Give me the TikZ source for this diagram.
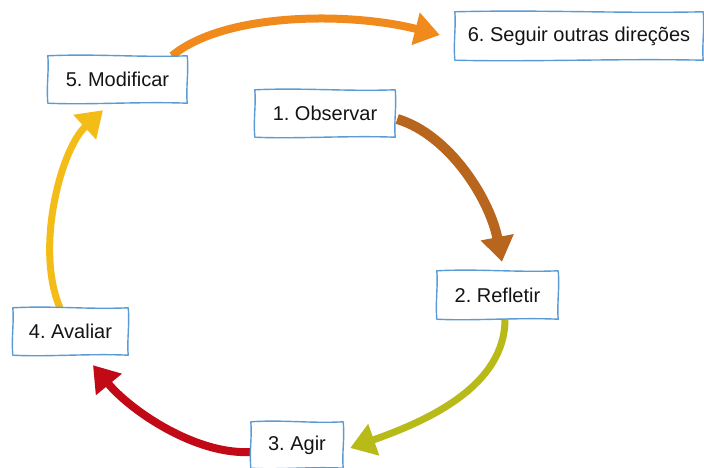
\documentclass[tikz,border=0pt]{standalone}
\usepackage{fontspec}
\setmainfont{Liberation Sans}
\usetikzlibrary{arrows.meta,calc,backgrounds}

\definecolor{boxblue}{HTML}{5B9BD5}
\definecolor{cOrange}{HTML}{F08A1C}
\definecolor{cBrown}{HTML}{B8651E}
\definecolor{cOlive}{HTML}{B7BA17}
\definecolor{cRed}{HTML}{C20A16}
\definecolor{cYellow}{HTML}{F4BC16}
\definecolor{ink}{HTML}{141414}

\tikzset{
  stepbox/.style={fill=white,
    font=\fontsize{20}{23}\selectfont, text=ink, inner sep=0pt,
    minimum width=#1, minimum height=47pt},
  boxline/.style={draw=boxblue, line width=1.4pt, line cap=round, line join=round},
  cyclearrow/.style={line width=#1, line cap=butt,
    -{Triangle[length=25pt,width=32pt]}},
}

% hand-drawn looking border around a named node
\newcommand\wobblyframe[1]{%
  \draw[boxline] (#1.north west)
    .. controls ($(#1.north west)!0.35!(#1.north east)+(0,2.2)$)
            and ($(#1.north west)!0.65!(#1.north east)+(0,-1.8)$) .. (#1.north east)
    .. controls ($(#1.north east)!0.35!(#1.south east)+(1.6,0)$)
            and ($(#1.north east)!0.70!(#1.south east)+(-1.4,0)$) .. (#1.south east)
    .. controls ($(#1.south east)!0.35!(#1.south west)+(0,1.8)$)
            and ($(#1.south east)!0.70!(#1.south west)+(0,-1.9)$) .. (#1.south west)
    .. controls ($(#1.south west)!0.40!(#1.north west)+(-1.5,0)$)
            and ($(#1.south west)!0.70!(#1.north west)+(1.4,0)$) .. cycle;}

\begin{document}
\frenchspacing
\begin{tikzpicture}[x=1pt,y=1pt]
\useasboundingbox (0,0) rectangle (704,468);
\clip (0,0) rectangle (704,468);

% stage boxes
\node[stepbox=139pt] (m5) at (117.5,388.5) {5. Modificar};
\node[stepbox=248pt, minimum height=48pt] (s6) at (579,432) {6. Seguir outras direções};
\node[stepbox=140pt] (o1) at (325,354.5) {1. Observar};
\node[stepbox=121pt, minimum height=48pt] (r2) at (497.5,173) {2. Refletir};
\node[stepbox=115pt] (a4) at (70.5,136.5) {4. Avaliar};
\node[stepbox=92pt, minimum height=46pt] (g3) at (297,23) {3. Agir};

\foreach \b in {m5,s6,o1,r2,a4,g3} {\wobblyframe{\b}}

% cycle arrows
\begin{pgfonlayer}{background}
\draw[cyclearrow=8pt, draw=cOrange]
  ([xshift=54.5pt]m5.north) .. controls (225,456) and (350,456) ..
  ([xshift=-15pt,yshift=1pt]s6.west);
\draw[cyclearrow=10pt, draw=cBrown]
  ([xshift=2pt,yshift=-5.5pt]o1.east) .. controls (450,333) and (490,268) ..
  ([xshift=4.5pt,yshift=9pt]r2.north);
\draw[cyclearrow=7pt, draw=cOlive]
  ([xshift=7.5pt]r2.south) .. controls (505,83) and (430,48) ..
  ([xshift=7pt,yshift=-3pt]g3.east);
\draw[cyclearrow=8pt, draw=cRed]
  ([yshift=-7pt]g3.west) .. controls (195,13) and (130,58) ..
  ([xshift=22.5pt,yshift=-10pt]a4.south);
\draw[cyclearrow=7pt, draw=cYellow]
  ([xshift=-10.5pt]a4.north) .. controls (35,218) and (60,318) ..
  ([xshift=-14.5pt,yshift=-7pt]m5.south);
\end{pgfonlayer}
\end{tikzpicture}
\end{document}
